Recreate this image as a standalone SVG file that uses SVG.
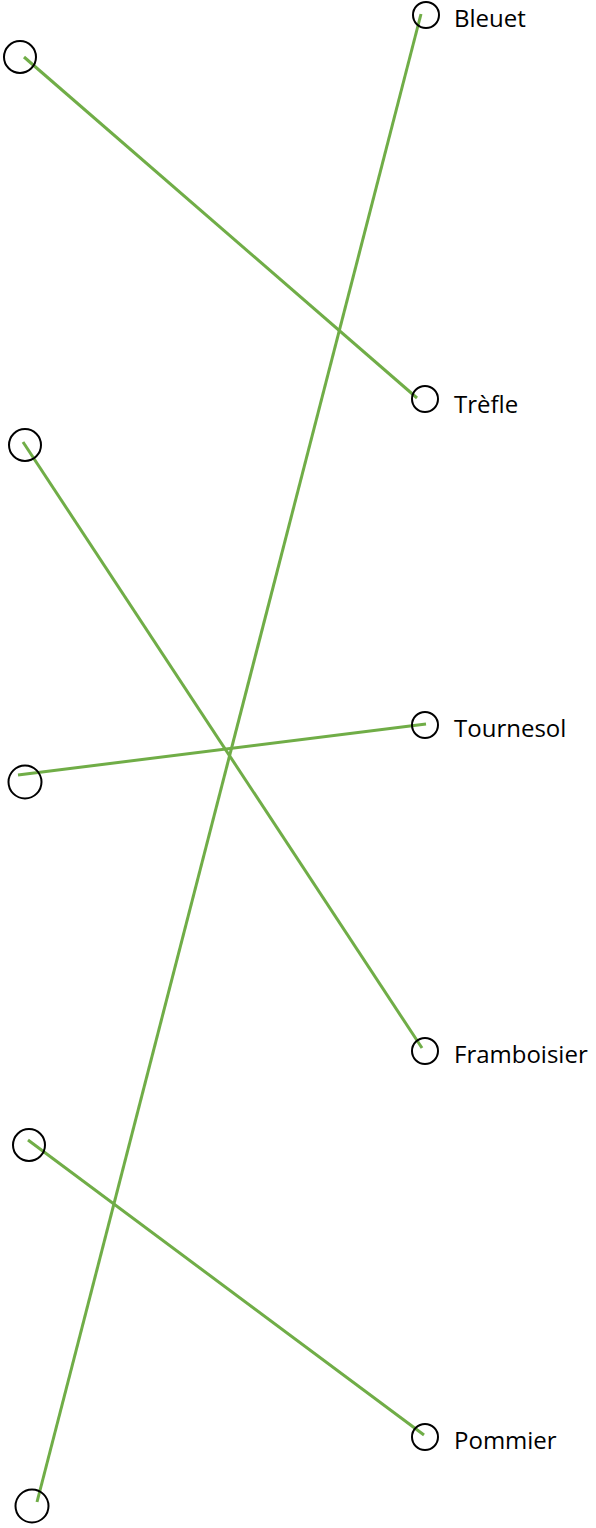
<svg xmlns="http://www.w3.org/2000/svg" width="596" height="1528" viewBox="0 0 596 1528">
<style>
.n{fill:none;stroke:#000;stroke-width:2}
.c{stroke:#70AD47;stroke-width:3;fill:none}
.t{font-family:"Open Sans",sans-serif;font-size:24px;fill:#000}
</style>
<rect width="596" height="1528" fill="#fff"/>
<g id="connectors">
<line class="c" x1="24" y1="57" x2="417" y2="398"/>
<line class="c" x1="421" y1="14" x2="37" y2="1502"/>
<line class="c" x1="23" y1="442" x2="422" y2="1048"/>
<line class="c" x1="18" y1="775" x2="426" y2="724"/>
<line class="c" x1="28" y1="1140" x2="424" y2="1435"/>
</g>
<g id="left1"><circle class="n" cx="20" cy="57" r="16"/></g>
<g id="left2"><circle class="n" cx="25" cy="445" r="16"/></g>
<g id="left3"><circle class="n" cx="25" cy="782" r="16.5"/></g>
<g id="left4"><circle class="n" cx="29" cy="1145" r="16"/></g>
<g id="left5"><circle class="n" cx="32" cy="1506" r="16.5"/></g>
<g id="bleuet"><circle class="n" cx="426" cy="15" r="13"/><text class="t" x="454" y="27">Bleuet</text></g>
<g id="trefle"><circle class="n" cx="425" cy="399" r="13"/><text class="t" x="454" y="413">Trèfle</text></g>
<g id="tournesol"><circle class="n" cx="425" cy="725" r="13"/><text class="t" x="454" y="737">Tournesol</text></g>
<g id="framboisier"><circle class="n" cx="425" cy="1051" r="13"/><text class="t" x="454" y="1063">Framboisier</text></g>
<g id="pommier"><circle class="n" cx="425" cy="1437" r="13"/><text class="t" x="454" y="1449">Pommier</text></g>
</svg>
